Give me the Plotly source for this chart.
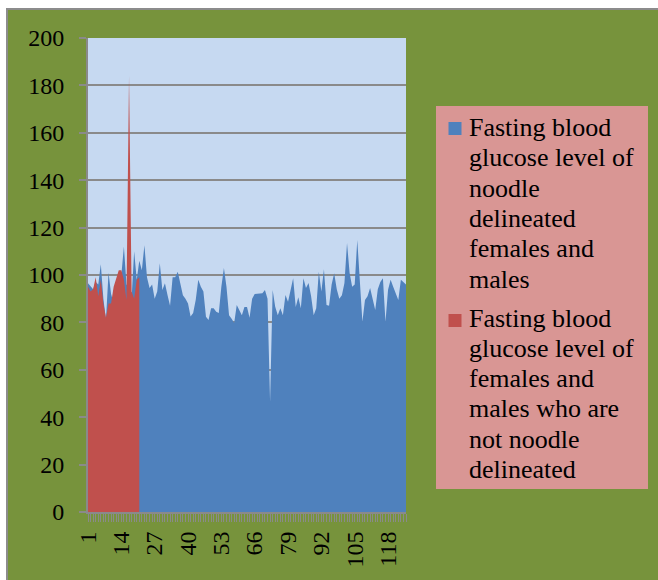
import plotly.graph_objects as go

# Subject index (category axis)
categories = list(range(1, 126))

# Fasting blood glucose, noodle delineated females and males
noodle_glucose = [
    96.5, 95, 94, 97, 96, 104.5, 90, 81, 101, 92,
    88, 95, 98, 100, 112, 96, 95, 90, 110, 98,
    106, 102, 112.6, 99, 94.5, 96, 90, 93, 105, 93.7,
    96.5, 91.6, 87, 99, 99, 101.4, 96, 91.5, 90, 88,
    82.5, 84, 89.5, 98, 95, 93, 82.4, 81, 86, 86,
    84.5, 84, 95, 103, 95, 83, 81.5, 79.7, 87.3, 85,
    83, 86.5, 86.5, 82, 90, 92, 92, 92, 92.3, 93.7,
    90, 46.5, 93.7, 86.6, 83, 86, 83, 91.6, 88.7, 93.7,
    98.6, 86.5, 90.6, 86, 98.6, 94.5, 96.6, 91, 83, 86,
    101.4, 93, 102.4, 87.3, 87, 96, 100.7, 94, 90, 91.5,
    96.6, 113.5, 101, 95, 96, 114.8, 95, 80.3, 89.5, 91,
    94.5, 90, 85.2, 94, 97, 98.6, 80.3, 93.8, 98, 95,
    92, 89.5, 98, 97, 96,
]

# Fasting blood glucose, females and males who are not noodle delineated
non_noodle_glucose = [
    95, 93, 94, 99, 91, 98, 88, 82, 88, 88,
    95, 99, 102, 102, 98, 89.5, 184, 93, 90, 98,
    99,
]

x_tick_labels = ["1", "14", "27", "40", "53", "66", "79", "92", "105", "118"]
y_ticks = list(range(0, 201, 20))

legend_lines_noodle = ["Fasting blood", "glucose level of", "noodle",
                       "delineated", "females and", "males"]
legend_lines_other = ["Fasting blood", "glucose level of", "females and",
                      "males who are", "not noodle", "delineated"]

BLUE = "#4F81BD"
RED = "#C0504D"
GREEN = "#77933C"
PLOT_BG = "#C6D9F1"
LEGEND_BG = "#D99694"
GRID = "#8A8A8A"
FONT = "Liberation Serif"

W, H = 658, 580
L, R, T, B = 88, 252, 38, 68
PW, PH = W - L - R, H - T - B


def px(x):
    return (x - L) / PW


def py(y):
    return (H - B - y) / PH


fig = go.Figure()
fig.add_trace(go.Scatter(
    x=categories, y=noodle_glucose, mode="lines", fill="tozeroy",
    line=dict(color=BLUE, width=0), fillcolor=BLUE,
    name=" ".join(legend_lines_noodle), showlegend=False, hoverinfo="skip",
))
fig.add_trace(go.Scatter(
    x=categories[:len(non_noodle_glucose)], y=non_noodle_glucose,
    mode="lines", fill="tozeroy",
    line=dict(color=RED, width=0), fillcolor=RED,
    name=" ".join(legend_lines_other), showlegend=False, hoverinfo="skip",
))

tick_text = [str(c) if str(c) in x_tick_labels else "" for c in categories]

shapes = [
    # white page edge with grey frame line
    dict(type="rect", xref="paper", yref="paper", x0=px(-20), x1=px(W + 20),
         y0=py(8), y1=py(-20), fillcolor="white", line=dict(width=0), layer="below"),
    dict(type="rect", xref="paper", yref="paper", x0=px(-20), x1=px(6),
         y0=py(H + 20), y1=py(-20), fillcolor="white", line=dict(width=0), layer="below"),
    dict(type="line", xref="paper", yref="paper", x0=px(6), x1=px(W + 20),
         y0=py(9), y1=py(9), line=dict(color="#8C8C8C", width=2), layer="below"),
    dict(type="line", xref="paper", yref="paper", x0=px(7), x1=px(7),
         y0=py(9), y1=py(H + 20), line=dict(color="#8C8C8C", width=2), layer="below"),
    # legend box
    dict(type="rect", xref="paper", yref="paper", x0=px(436), x1=px(648),
         y0=py(489), y1=py(106), fillcolor=LEGEND_BG, line=dict(width=0), layer="below"),
    dict(type="rect", xref="paper", yref="paper", x0=px(448.5), x1=px(461.5),
         y0=py(135), y1=py(122), fillcolor=BLUE, line=dict(width=0), layer="below"),
    dict(type="rect", xref="paper", yref="paper", x0=px(448.5), x1=px(461.5),
         y0=py(327), y1=py(314), fillcolor=RED, line=dict(width=0), layer="below"),
]

annotations = []
LINE_STEP = 30.3
for start, lines in ((127.5, legend_lines_noodle), (318.0, legend_lines_other)):
    for i, line in enumerate(lines):
        annotations.append(dict(
            xref="paper", yref="paper", x=px(467), y=py(start + i * LINE_STEP),
            xanchor="left", yanchor="middle", text=line, showarrow=False,
            font=dict(family=FONT, size=26, color="black"),
        ))

fig.update_layout(
    width=W, height=H, autosize=False,
    margin=dict(l=L, r=R, t=T, b=B, pad=0),
    paper_bgcolor=GREEN, plot_bgcolor=PLOT_BG,
    showlegend=False,
    shapes=shapes, annotations=annotations,
    font=dict(family=FONT, size=24, color="black"),
)
fig.update_xaxes(
    range=[1, 125], tickmode="array", tickvals=categories, ticktext=tick_text,
    tickangle=-90, ticks="outside", ticklen=8, tickwidth=1, tickcolor=GRID,
    showline=True, linecolor=GRID, linewidth=2, showgrid=False, zeroline=False,
    tickfont=dict(family=FONT, size=24, color="black"),
)
fig.update_yaxes(
    range=[0, 200], tickmode="array", tickvals=y_ticks,
    ticks="outside", ticklen=7, tickwidth=2, tickcolor=GRID,
    showline=True, linecolor=GRID, linewidth=2,
    showgrid=True, gridcolor=GRID, gridwidth=2, zeroline=False,
    tickfont=dict(family=FONT, size=24, color="black"),
    ticklabelstandoff=10,
)

fig.write_html("out.html")
